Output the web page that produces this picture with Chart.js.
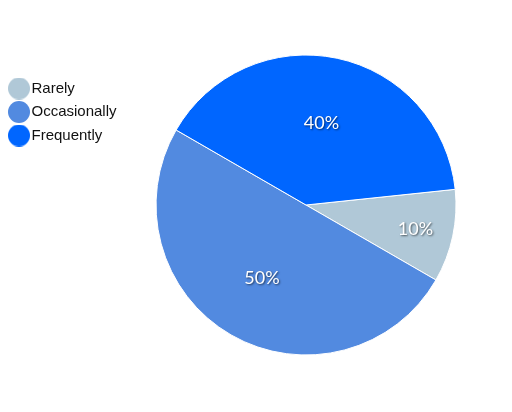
<!DOCTYPE html>
<html>
<head>
<meta charset="utf-8">
<script src="https://cdn.jsdelivr.net/npm/chart.js@4.4.1/dist/chart.umd.min.js"></script>
<style>
  html, body { margin: 0; padding: 0; background: #fff; }
  #wrap { width: 512px; height: 412px; }
</style>
</head>
<body>
<div id="wrap"><canvas id="pie"></canvas></div>
<script>
// chart data
const categories = ["Rarely", "Occasionally", "Frequently"];
const shares = [10, 50, 40];
const sliceColours = ["#b0c8d7", "#528ae0", "#0066ff"];

// round legend marker, a bit bigger than the text
function dotImage(colour) {
    const c = document.createElement("canvas");
    c.width = 22;
    c.height = 22;
    const g = c.getContext("2d");
    g.fillStyle = colour;
    g.beginPath();
    g.arc(11, 11, 11, 0, Math.PI * 2);
    g.fill();
    return c;
}

// draws the percentage text inside each slice
const sliceLabels = {
    id: "sliceLabels",
    afterDatasetsDraw(chart) {
        const ctx = chart.ctx;
        const meta = chart.getDatasetMeta(0);
        const total = shares.reduce((a, b) => a + b, 0);
        ctx.save();
        ctx.font = "18px Lato";
        ctx.fillStyle = "#ffffff";
        ctx.textAlign = "center";
        ctx.textBaseline = "middle";
        ctx.shadowColor = "rgba(0,0,0,0.6)";
        ctx.shadowOffsetX = 1;
        ctx.shadowOffsetY = 1;
        ctx.shadowBlur = 2;
        meta.data.forEach((arc, i) => {
            const mid = (arc.startAngle + arc.endAngle) / 2;
            const frac = shares[i] / total < 0.15 ? 0.76 : 0.56;
            const r = arc.outerRadius * frac;
            ctx.fillText(shares[i] + "%", arc.x + Math.cos(mid) * r - 2, arc.y + Math.sin(mid) * r);
        });
        ctx.restore();
    }
};

new Chart(document.getElementById("pie"), {
    type: "pie",
    data: {
        labels: categories,
        datasets: [{
            data: shares,
            backgroundColor: sliceColours,
            borderColor: "#ffffff",
            borderWidth: 1,
            clip: false
        }]
    },
    options: {
        responsive: true,
        maintainAspectRatio: false,
        animation: false,
        rotation: 84,
        radius: 150,
        layout: {
            padding: { top: 72.5, bottom: 74.5, left: 5.5, right: 26.5 }
        },
        plugins: {
            tooltip: { enabled: false },
            legend: {
                position: "left",
                align: "start",
                labels: {
                    usePointStyle: true,
                    pointStyleWidth: 10,
                    boxHeight: 14,
                    padding: 8.5,
                    color: "#111111",
                    font: { family: "Liberation Sans", size: 15 },
                    generateLabels(chart) {
                        const items = Chart.overrides.pie.plugins.legend.labels.generateLabels(chart);
                        items.forEach((item, i) => {
                            item.pointStyle = dotImage(sliceColours[i]);
                        });
                        return items;
                    }
                }
            }
        }
    },
    plugins: [sliceLabels]
});
</script>
</body>
</html>
